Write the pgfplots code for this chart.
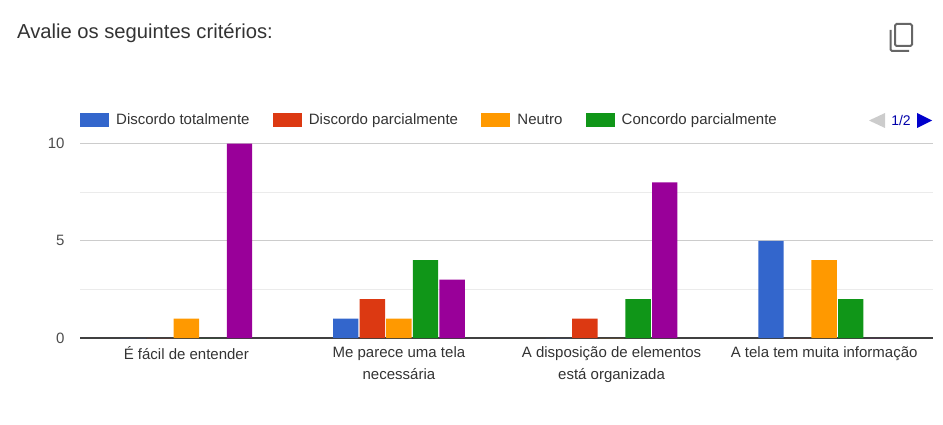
\documentclass[border=0pt]{standalone}
\usepackage{fontspec}
\setmainfont{Liberation Sans}
\usepackage{pgfplots}
\pgfplotsset{compat=1.18}
\definecolor{cblue}{HTML}{3366CC}
\definecolor{cred}{HTML}{DC3912}
\definecolor{corange}{HTML}{FF9900}
\definecolor{cgreen}{HTML}{109618}
\definecolor{cpurple}{HTML}{990099}
\definecolor{ctext}{HTML}{333333}
\definecolor{pgtext}{HTML}{0000AA}
\definecolor{pgarrow}{HTML}{0000CC}
\pgfplotsset{
  swatch/.style={legend image code/.code={\fill[#1] (0pt,-7pt) rectangle (29pt,7pt);}}
}
\begin{document}
\begin{tikzpicture}[x=1pt,y=1pt]
\path[use as bounding box] (0,0) rectangle (943,424);
\node[anchor=west,inner sep=0pt,text=ctext,font=\fontsize{20.2}{22}\selectfont] at (17,391) {Avalie os seguintes critérios:};
% copy icon
\draw[color=black!60,line width=2pt,rounded corners=1.5pt] (895,400) rectangle (912,378);
\draw[color=black!60,line width=2pt,rounded corners=1.5pt] (890.5,394) -- (890.5,373) -- (909,373);
\begin{axis}[
  at={(80pt,86pt)},anchor=south west,
  scale only axis,width=853pt,height=194.5pt,
  xmin=-0.5,xmax=3.512,ymin=0,ymax=10,
  ybar=1.2pt,bar width=25.4pt,
  axis x line=bottom,axis y line=left,
  axis line style={-},
  x axis line style={draw=black!75,line width=1.3pt},
  y axis line style={draw=none},
  xtick={0,1,2,3},
  xticklabels={{É fácil de entender},{Me parece uma tela\\necessária},{A disposição de elementos\\está organizada},{A tela tem muita informação}},
  xticklabel style={align=center,font=\fontsize{15}{22}\selectfont,text=ctext,yshift=-5pt,anchor=north},
  ytick={0,5,10},minor ytick={2.5,7.5},
  yticklabel style={font=\fontsize{15}{16}\selectfont,text=black!70,xshift=-12pt},
  /pgf/number format/assume math mode=true,
  ymajorgrids,yminorgrids,
  major grid style={draw=black!20,line width=1pt},
  minor grid style={draw=black!8,line width=1pt},
  tick style={draw=none},major tick length=0pt,minor tick length=0pt,
  legend cell align=left,
  legend columns=-1,
  legend style={at={(0,1)},anchor=south west,yshift=15pt,draw=none,fill=none,inner xsep=0pt,inner ysep=0pt,
    font=\fontsize{15}{16}\selectfont,text=ctext,
    /tikz/every even column/.append style={column sep=21.3pt},
    /tikz/every odd column/.append style={column sep=5pt}},
]
\addplot[fill=cblue,draw=none,swatch=cblue] coordinates {(0,0)(1,1)(2,0)(3,5)};
\addlegendentry{Discordo totalmente}
\addplot[fill=cred,draw=none,swatch=cred] coordinates {(0,0)(1,2)(2,1)(3,0)};
\addlegendentry{Discordo parcialmente}
\addplot[fill=corange,draw=none,swatch=corange] coordinates {(0,1)(1,1)(2,0)(3,4)};
\addlegendentry{Neutro}
\addplot[fill=cgreen,draw=none,swatch=cgreen] coordinates {(0,0)(1,4)(2,2)(3,2)};
\addlegendentry{Concordo parcialmente}
\addplot[fill=cpurple,draw=none] coordinates {(0,10)(1,3)(2,8)(3,0)};
\end{axis}
% legend pager
\fill[black!20] (869,303.5) -- (885,311) -- (885,296) -- cycle;
\node[anchor=center,inner sep=0pt,text=pgtext,font=\fontsize{14}{16}\selectfont] at (901,303.5) {1/2};
\fill[pgarrow] (932,303.5) -- (917,311) -- (917,296) -- cycle;
\end{tikzpicture}
\end{document}
